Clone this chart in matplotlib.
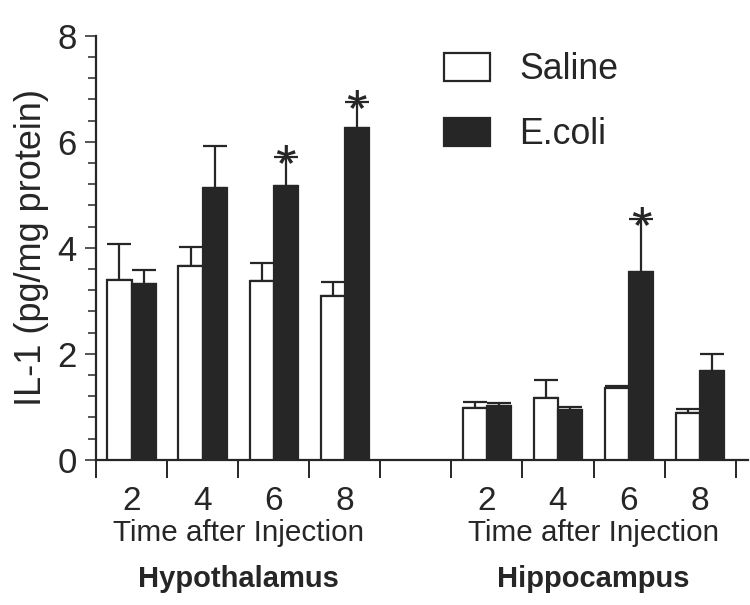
import matplotlib
matplotlib.use("Agg")
import matplotlib.pyplot as plt
import numpy as np
from matplotlib.patches import Patch
from matplotlib.ticker import MultipleLocator, FixedLocator

plt.rcParams['font.family'] = ['Liberation Sans', 'DejaVu Sans']

times = ["2", "4", "6", "8"]
regions = ["Hypothalamus", "Hippocampus"]
series = ["Saline", "E.coli"]

hyp_saline = [3.40, 3.66, 3.38, 3.09]
hyp_saline_err = [0.68, 0.36, 0.34, 0.27]
hyp_ecoli = [3.32, 5.13, 5.16, 6.26]
hyp_ecoli_err = [0.26, 0.79, 0.55, 0.48]

hip_saline = [0.97, 1.17, 1.35, 0.88]
hip_saline_err = [0.12, 0.33, 0.05, 0.08]
hip_ecoli = [1.02, 0.93, 3.55, 1.68]
hip_ecoli_err = [0.05, 0.07, 0.99, 0.32]

hyp_sig = [False, False, True, True]
hip_sig = [False, False, True, False]

dark = '#262626'

fig = plt.figure(figsize=(7.5, 6.05), dpi=100)
ax = fig.add_axes([0.128, 0.24, 0.869, 0.701])

width = 0.34
groups = [np.arange(4), np.arange(4) + 5]
sal_vals = [hyp_saline, hip_saline]
sal_errs = [hyp_saline_err, hip_saline_err]
eco_vals = [hyp_ecoli, hip_ecoli]
eco_errs = [hyp_ecoli_err, hip_ecoli_err]
sigs = [hyp_sig, hip_sig]

for g, sv, se, ev, ee, sg in zip(groups, sal_vals, sal_errs, eco_vals, eco_errs, sigs):
    xs = g + 0.5 - width / 2
    xe = g + 0.5 + width / 2
    ax.bar(xs, sv, width, color='white', edgecolor=dark, linewidth=1.6, zorder=3)
    ax.bar(xe, ev, width, color=dark, edgecolor=dark, linewidth=1.6, zorder=3)
    ax.errorbar(xs, sv, yerr=[np.zeros(4), se], fmt='none', ecolor=dark,
                elinewidth=1.6, capsize=8.5, capthick=1.6, zorder=2)
    ax.errorbar(xe, ev, yerr=[np.zeros(4), ee], fmt='none', ecolor=dark,
                elinewidth=1.6, capsize=8.5, capthick=1.6, zorder=2)
    for x, v, e, s in zip(xe, ev, ee, sg):
        if s:
            ax.annotate('*', xy=(x, v + e), xytext=(0, -17), textcoords='offset points',
                        ha='center', va='baseline', fontsize=38, color=dark)

ax.set_xlim(0, 9.17)
ax.set_ylim(0, 8)

for s in ['top', 'right']:
    ax.spines[s].set_visible(False)
for s in ['left', 'bottom']:
    ax.spines[s].set_linewidth(1.6)
    ax.spines[s].set_color(dark)

ax.yaxis.set_major_locator(MultipleLocator(2))
ax.yaxis.set_minor_locator(MultipleLocator(0.4))
ax.tick_params(axis='y', which='major', length=8, width=1.1, labelsize=25, pad=6,
               color=dark, labelcolor=dark)
ax.tick_params(axis='y', which='minor', length=6, width=1.1, color=dark)

ax.xaxis.set_major_locator(FixedLocator(np.arange(10)))
ax.xaxis.set_minor_locator(FixedLocator(np.concatenate(groups) + 0.5))
ax.set_xticklabels([])
ax.set_xticklabels(times + times, minor=True)
ax.tick_params(axis='x', which='major', length=13, width=1.4, color=dark)
ax.tick_params(axis='x', which='minor', length=0, labelsize=24, pad=19, labelcolor=dark)

ax.set_ylabel('IL-1 (pg/mg protein)', fontsize=26, labelpad=6, color=dark)

for g, r in zip(groups, regions):
    cx = g.mean() + 0.5
    ax.text(cx, -0.172, 'Time after Injection', transform=ax.get_xaxis_transform(),
            ha='center', va='center', fontsize=21.3, color=dark)
    ax.text(cx, -0.28, r, transform=ax.get_xaxis_transform(),
            ha='center', va='center', fontsize=21, fontweight='bold', color=dark)

handles = [Patch(facecolor='white', edgecolor=dark, linewidth=1.6),
           Patch(facecolor=dark, edgecolor=dark, linewidth=1.6)]
fig.legend(handles, series, loc='upper left', bbox_to_anchor=(0.592, 0.914),
           frameon=False, fontsize=25.7, handlelength=1.29, handleheight=0.84,
           handletextpad=0.81, labelspacing=0.84, borderpad=0, borderaxespad=0,
           labelcolor=dark)

fig.savefig('out.png', dpi=100)
